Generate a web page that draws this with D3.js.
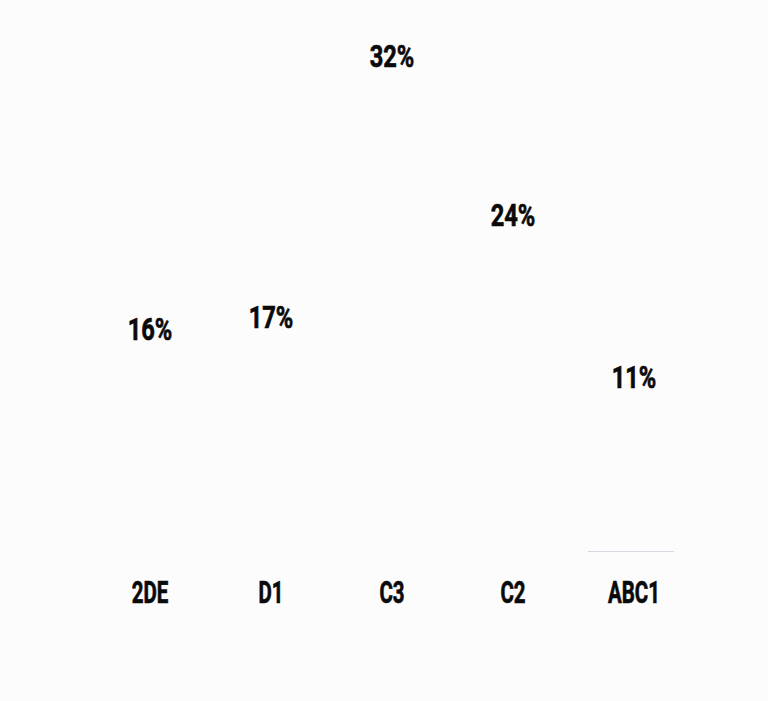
<!DOCTYPE html>
<html>
<head>
<meta charset="utf-8">
<script src="https://cdn.jsdelivr.net/npm/d3@7"></script>
<style>
  html, body { margin: 0; padding: 0; background: #fcfcfc; }
  svg { display: block; }
  text { font-family: Roboto, "DejaVu Sans Condensed", sans-serif; font-weight: bold; fill: #0a0a0a; stroke: #0a0a0a; stroke-width: 0.7px; }
</style>
</head>
<body>
<script>
const categories = ["2DE", "D1", "C3", "C2", "ABC1"];
const values = [16, 17, 32, 24, 11];
const valueLabels = ["16%", "17%", "32%", "24%", "11%"];

const W = 768, H = 701;
const svg = d3.select("body").append("svg").attr("width", W).attr("height", H);
svg.append("rect").attr("width", W).attr("height", H).attr("fill", "#fcfcfc");

const x = d3.scaleBand().domain(categories).range([89.5, 694.5])
  .paddingInner(0.29).paddingOuter(0.145);
const y = d3.scalePow().exponent(2).domain([0, 32]).range([431, 67]);
const baseline = 551;

// bars (same colour as the background, so they do not show)
svg.append("g").selectAll("rect").data(categories).join("rect")
  .attr("x", d => x(d))
  .attr("width", x.bandwidth())
  .attr("y", (d, i) => Math.min(y(values[i]), baseline))
  .attr("height", (d, i) => Math.max(0, baseline - y(values[i])))
  .attr("fill", "#fcfcfc");

// faint base segment under the last category
svg.append("line")
  .attr("x1", x(categories[4]) - 3).attr("x2", x(categories[4]) + x.bandwidth() - 3)
  .attr("y1", baseline + 0.5).attr("y2", baseline + 0.5)
  .attr("stroke", "#d3d8e0").attr("stroke-width", 1);

// value labels
svg.append("g").selectAll("text").data(categories).join("text")
  .attr("transform", (d, i) => `translate(${x(d) + x.bandwidth() / 2},${y(values[i])}) scale(0.74,1)`)
  .attr("text-anchor", "middle")
  .attr("font-size", 32)
  .text((d, i) => valueLabels[i]);

// category labels
svg.append("g").selectAll("text").data(categories).join("text")
  .attr("transform", d => `translate(${x(d) + x.bandwidth() / 2},603) scale(0.66,1)`)
  .attr("text-anchor", "middle")
  .attr("font-size", 31)
  .text(d => d);
</script>
</body>
</html>
